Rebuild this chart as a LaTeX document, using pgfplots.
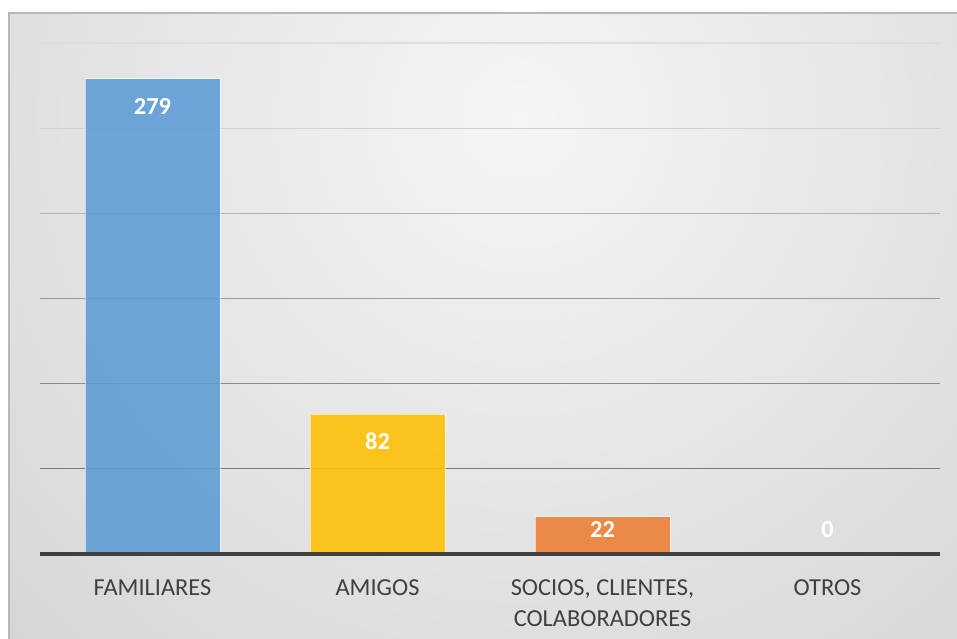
\documentclass[border=0pt]{standalone}
\usepackage{pgfplots}
\pgfplotsset{compat=1.18}
\usepackage{fontspec}
\setmainfont{Carlito}
\definecolor{cblue}{HTML}{5B9BD5}
\definecolor{cyellow}{HTML}{FFC000}
\definecolor{corange}{HTML}{ED7D31}
\definecolor{ctext}{HTML}{404040}
\definecolor{bgin}{HTML}{F5F5F5}
\definecolor{bgout}{HTML}{BEBEBE}
\begin{document}
\begin{tikzpicture}[x=1bp,y=1bp]
\path[use as bounding box, fill=white] (0,0) rectangle (957,639);
\begin{scope}
\clip (9,0) rectangle (957,626);
\shade[inner color=bgin, outer color=bgout] (520,520) circle (1300);
\end{scope}
\draw[color=black!28, line width=1.5bp] (9,0) -- (9,626) -- (957,626);
\begin{axis}[
  at={(40bp,85bp)}, anchor=south west,
  width=900bp, height=511bp, scale only axis,
  xmin=-0.5, xmax=3.5, ymin=0, ymax=300,
  clip=false,
  axis line style={draw=none},
  major tick length=0pt,
  ytick=\empty,
  xtick={0,1,2,3},
  xticklabels={FAMILIARES, AMIGOS, {SOCIOS, CLIENTES,\\COLABORADORES}, OTROS},
  x tick label style={font=\fontsize{24.5}{31}\selectfont, text=ctext, align=center, anchor=north, yshift=-22bp},
]
% gridlines
\addplot[forget plot, color=black!13, line width=1.3bp] coordinates {(-0.5,300) (3.5,300)};
\addplot[forget plot, color=black!18, line width=1.3bp] coordinates {(-0.5,250) (3.5,250)};
\addplot[forget plot, color=black!30, line width=1.3bp] coordinates {(-0.5,200) (3.5,200)};
\addplot[forget plot, color=black!40, line width=1.3bp] coordinates {(-0.5,150) (3.5,150)};
\addplot[forget plot, color=black!46, line width=1.3bp] coordinates {(-0.5,100) (3.5,100)};
\addplot[forget plot, color=black!52, line width=1.3bp] coordinates {(-0.5,50) (3.5,50)};
% bars
\addplot[ybar, bar width=0.6, fill=cblue, fill opacity=0.87, draw=white, draw opacity=0.6, line width=1bp] coordinates {(0,279)};
\addplot[ybar, bar width=0.6, fill=cyellow, fill opacity=0.87, draw=white, draw opacity=0.6, line width=1bp] coordinates {(1,82)};
\addplot[ybar, bar width=0.6, fill=corange, fill opacity=0.87, draw=white, draw opacity=0.6, line width=1bp] coordinates {(2,22)};
\addplot[ybar, bar width=0.6, draw=none, fill=none] coordinates {(3,0)};
% baseline
\addplot[forget plot, color=ctext, line width=3.5bp] coordinates {(-0.5,0) (3.5,0)};
% data labels
\addplot[only marks, mark=none, point meta=explicit symbolic,
  nodes near coords, every node near coord/.append style={anchor=center, text=white, font=\fontsize{24.5}{29}\bfseries\selectfont}]
  coordinates {(0,262.5)[279] (1,66.4)[82] (2,14.4)[22] (3,14.4)[0]};
\end{axis}
\end{tikzpicture}
\end{document}
